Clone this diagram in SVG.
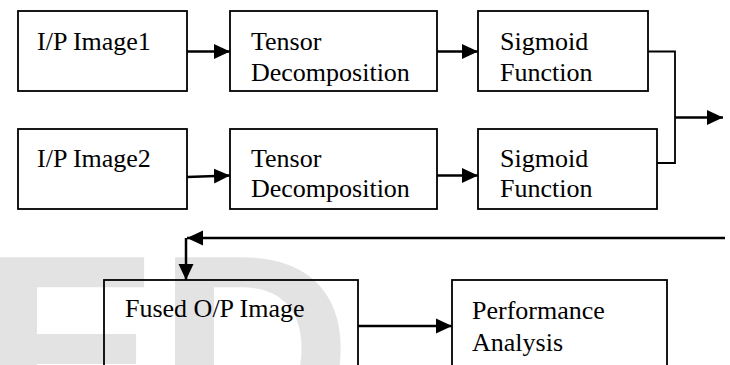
<svg xmlns="http://www.w3.org/2000/svg" width="730" height="365" viewBox="0 0 730 365">
<style>
.box{fill:none;stroke:#000;stroke-width:1.8}
.t{font-family:"Liberation Serif","Times New Roman",Times,serif;font-size:26px;fill:#000}
.c{fill:none;stroke:#000;stroke-width:2.5}
.thin{fill:none;stroke:#000;stroke-width:1.8}
.wm{font-family:"Liberation Sans",Arial,sans-serif;font-weight:bold;font-size:270px;fill:#e3e3e3}
</style>
<defs>
<marker id="ah" markerUnits="userSpaceOnUse" markerWidth="16" markerHeight="16" viewBox="0 0 16 16" refX="16" refY="8" orient="auto">
<path d="M0,0.5 L16,8 L0,15.5 z" fill="#000"/>
</marker>
</defs>
<rect width="730" height="365" fill="#fff"/>
<g id="watermark">
<text class="wm" x="-20" y="443">E</text>
<text class="wm" x="157" y="443">D</text>
</g>
<g id="n1"><rect class="box" x="18" y="11" width="169" height="80"/><text class="t" x="37" y="50">I/P Image1</text></g>
<g id="n2"><rect class="box" x="230" y="11" width="207" height="80"/><text class="t" x="251" y="50">Tensor</text><text class="t" x="251" y="81">Decomposition</text></g>
<g id="n3"><rect class="box" x="478" y="11" width="170" height="80"/><text class="t" x="500" y="50">Sigmoid</text><text class="t" x="500" y="81">Function</text></g>
<g id="n4"><rect class="box" x="18" y="129" width="169" height="80"/><text class="t" x="37" y="167">I/P Image2</text></g>
<g id="n5"><rect class="box" x="230" y="129" width="207" height="80"/><text class="t" x="251" y="167">Tensor</text><text class="t" x="251" y="197">Decomposition</text></g>
<g id="n6"><rect class="box" x="478" y="129" width="179" height="80"/><text class="t" x="500" y="167">Sigmoid</text><text class="t" x="500" y="197">Function</text></g>
<g id="n7"><rect class="box" x="104" y="280" width="254" height="100"/><text class="t" x="125" y="317">Fused O/P Image</text></g>
<g id="n8"><rect class="box" x="452" y="280" width="215" height="100"/><text class="t" x="472" y="319">Performance</text><text class="t" x="472" y="351">Analysis</text></g>
<g id="connectors">
<line class="c" x1="187" y1="51.5" x2="230" y2="51.5" marker-end="url(#ah)"/>
<line class="c" x1="437" y1="51.5" x2="478" y2="51.5" marker-end="url(#ah)"/>
<line class="c" x1="187" y1="177" x2="230" y2="175.5" marker-end="url(#ah)"/>
<line class="c" x1="437" y1="175.5" x2="478" y2="175.5" marker-end="url(#ah)"/>
<polyline class="thin" points="648,51.5 675,51.5 675,163 657,163"/>
<line class="c" x1="675" y1="117.5" x2="723" y2="117.5" marker-end="url(#ah)"/>
<line class="c" x1="725" y1="238" x2="187" y2="238" marker-end="url(#ah)"/>
<line class="c" x1="186" y1="238" x2="186" y2="280" marker-end="url(#ah)"/>
<line class="c" x1="358" y1="326" x2="452" y2="326" marker-end="url(#ah)"/>
</g>
</svg>
